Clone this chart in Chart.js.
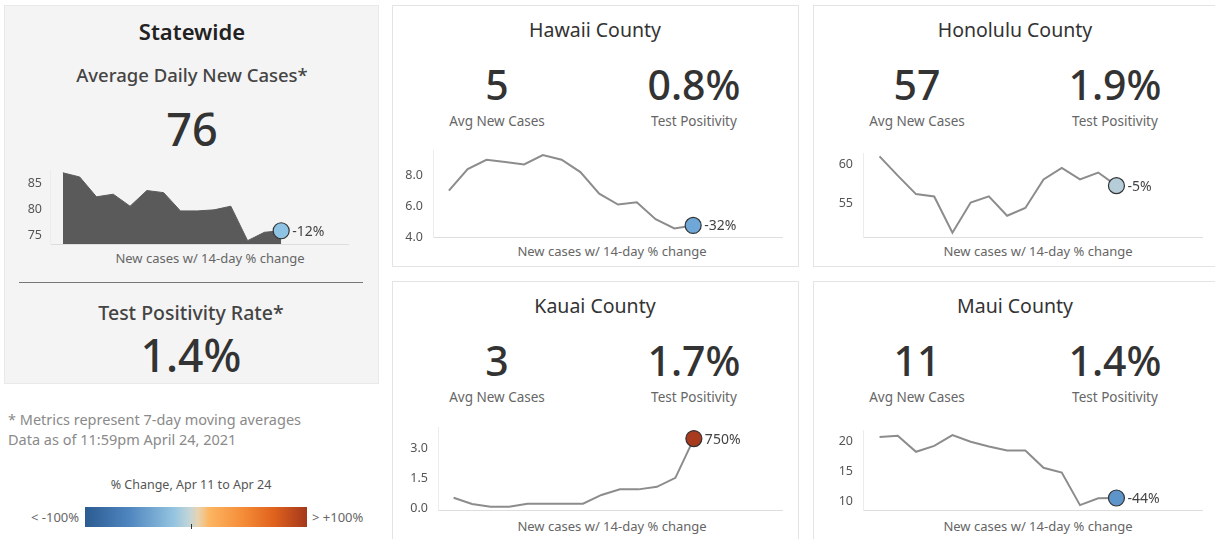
<!DOCTYPE html>
<html>
<head>
<meta charset="utf-8">
<script src="https://cdn.jsdelivr.net/npm/chart.js@4.4.1/dist/chart.umd.min.js"></script>
<style>
body { margin: 0; width: 1215px; height: 539px; overflow: hidden; background: #fff; font-family: "Noto Sans", sans-serif; color: #333; position: relative }
.panel { position: absolute; box-sizing: border-box; border: 1px solid #e4e4e4; background: #fff }
.state { background: #f4f4f4; border-color: #e9e9e9 }
.t { position: absolute; width: 400px; margin-left: -200px; text-align: center; line-height: 1; white-space: nowrap }
.l { position: absolute; line-height: 1; white-space: nowrap }
.title { font-size: 19.5px; color: #333 }
.big { font-size: 41px; font-weight: 500; color: #333 }
.sub { font-size: 13.5px; color: #666 }
.cap { font-size: 13px; color: #666 }
canvas { position: absolute }
</style>
</head>
<body>

<div class="panel state" style="left:4px;top:5px;width:375px;height:379px"></div>
<div class="panel" style="left:392px;top:5px;width:407px;height:262px"></div>
<div class="panel" style="left:813px;top:5px;width:410px;height:262px"></div>
<div class="panel" style="left:392px;top:281px;width:407px;height:270px"></div>
<div class="panel" style="left:813px;top:281px;width:410px;height:270px"></div>

<!-- statewide -->
<div class="t" style="left:192px;top:19.8px;font-size:22px;font-weight:600;color:#222">Statewide</div>
<div class="t" style="left:192px;top:65.9px;font-size:18.5px;font-weight:500;color:#444">Average Daily New Cases*</div>
<div class="t" id="stateCases" style="left:192px;top:106px;font-size:45px;font-weight:500"></div>
<div class="t cap" style="left:210px;top:251.5px">New cases w/ 14-day % change</div>
<div style="position:absolute;left:19px;top:282px;width:344px;height:1px;background:#777"></div>
<div class="t" style="left:191px;top:302.7px;font-size:19.5px;font-weight:500;color:#444">Test Positivity Rate*</div>
<div class="t" id="statePos" style="left:191px;top:332.5px;font-size:44.5px;font-weight:500"></div>

<div class="l" style="left:8px;top:412px;font-size:14.5px;color:#8a8a8a">* Metrics represent 7-day moving averages</div>
<div class="l" style="left:8px;top:432px;font-size:14.5px;color:#8a8a8a">Data as of 11:59pm April 24, 2021</div>
<div class="t" style="left:191px;top:479px;font-size:12.5px;color:#555">% Change, Apr 11 to Apr 24</div>
<div style="position:absolute;left:85px;top:507px;width:222px;height:20px;background:linear-gradient(to right,#2b5b91 0%,#4f86bf 20%,#94c4e0 40%,#c3d5d8 47%,#e8d3b0 51%,#fdb561 56%,#f48a36 72%,#e0621d 85%,#a4381c 100%)"></div>
<div style="position:absolute;left:191px;top:524px;width:1px;height:5px;background:#333"></div>
<div class="l" style="left:31px;top:510.5px;font-size:13px;color:#666">&lt; -100%</div>
<div class="l" style="left:312px;top:510.5px;font-size:13px;color:#666">&gt; +100%</div>

<!-- counties -->
<div class="t title" style="left:595px;top:20px">Hawaii County</div>
<div class="t big" id="hawaiiCases" style="left:497px;top:63.6px"></div>
<div class="t big" id="hawaiiPos" style="left:694px;top:63.6px"></div>
<div class="t sub" style="left:497px;top:115px">Avg New Cases</div>
<div class="t sub" style="left:694px;top:115px">Test Positivity</div>
<div class="t cap" style="left:612px;top:245px">New cases w/ 14-day % change</div>

<div class="t title" style="left:1015px;top:20px">Honolulu County</div>
<div class="t big" id="honoluluCases" style="left:917px;top:63.6px"></div>
<div class="t big" id="honoluluPos" style="left:1115px;top:63.6px"></div>
<div class="t sub" style="left:917px;top:115px">Avg New Cases</div>
<div class="t sub" style="left:1115px;top:115px">Test Positivity</div>
<div class="t cap" style="left:1038px;top:245px">New cases w/ 14-day % change</div>

<div class="t title" style="left:595px;top:296px">Kauai County</div>
<div class="t big" id="kauaiCases" style="left:497px;top:339.6px"></div>
<div class="t big" id="kauaiPos" style="left:694px;top:339.6px"></div>
<div class="t sub" style="left:497px;top:391px">Avg New Cases</div>
<div class="t sub" style="left:694px;top:391px">Test Positivity</div>
<div class="t cap" style="left:612px;top:520px">New cases w/ 14-day % change</div>

<div class="t title" style="left:1015px;top:296px">Maui County</div>
<div class="t big" id="mauiCases" style="left:917px;top:339.6px"></div>
<div class="t big" id="mauiPos" style="left:1115px;top:339.6px"></div>
<div class="t sub" style="left:917px;top:391px">Avg New Cases</div>
<div class="t sub" style="left:1115px;top:391px">Test Positivity</div>
<div class="t cap" style="left:1038px;top:520px">New cases w/ 14-day % change</div>

<canvas id="cState"></canvas>
<canvas id="cHawaii"></canvas>
<canvas id="cHonolulu"></canvas>
<canvas id="cKauai"></canvas>
<canvas id="cMaui"></canvas>

<script>
const days = ["Apr 11", "Apr 12", "Apr 13", "Apr 14", "Apr 15", "Apr 16", "Apr 17",
    "Apr 18", "Apr 19", "Apr 20", "Apr 21", "Apr 22", "Apr 23", "Apr 24"]

// 7-day average new cases per day
const statewideCases = [87.0, 86.2, 82.4, 82.9, 80.6, 83.6, 83.2, 79.7, 79.7, 79.9, 80.6, 74.0, 75.6, 75.9]
const hawaiiCases = [7.0, 8.4, 9.0, 8.85, 8.7, 9.3, 9.0, 8.2, 6.8, 6.1, 6.25, 5.15, 4.55, 4.75]
const honoluluCases = [61.1, 58.6, 56.2, 55.9, 51.2, 55.1, 55.9, 53.4, 54.4, 58.1, 59.6, 58.1, 59.0, 57.3]
const kauaiCases = [0.53, 0.22, 0.08, 0.08, 0.23, 0.23, 0.23, 0.23, 0.67, 0.95, 0.95, 1.08, 1.53, 3.5]
const mauiCases = [20.8, 21.0, 18.3, 19.3, 21.1, 20.0, 19.2, 18.5, 18.5, 15.6, 14.8, 9.3, 10.45, 10.5]

// headline numbers
const avgCases = { state: "76", hawaii: "5", honolulu: "57", kauai: "3", maui: "11" }
const testPositivity = { state: "1.4%", hawaii: "0.8%", honolulu: "1.9%", kauai: "1.7%", maui: "1.4%" }
const pctChange = { state: "-12%", hawaii: "-32%", honolulu: "-5%", kauai: "750%", maui: "-44%" }

// y axis ticks
const stateTicks = [75, 80, 85]
const hawaiiTicks = [4, 6, 8]
const honoluluTicks = [55, 60]
const kauaiTicks = [0, 1.5, 3]
const mauiTicks = [10, 15, 20]

document.getElementById("stateCases").textContent = avgCases.state
document.getElementById("statePos").textContent = testPositivity.state
for (const k of ["hawaii", "honolulu", "kauai", "maui"]) {
    document.getElementById(k + "Cases").textContent = avgCases[k]
    document.getElementById(k + "Pos").textContent = testPositivity[k]
}

const endLabel = {
    id: "endLabel",
    afterDatasetsDraw(chart, args, opts) {
        const meta = chart.getDatasetMeta(0)
        const pt = meta.data[meta.data.length - 1]
        const ctx = chart.ctx
        ctx.save()
        ctx.font = "14px 'Noto Sans'"
        ctx.fillStyle = "#444"
        ctx.textBaseline = "middle"
        ctx.fillText(opts.text, pt.x + 11, pt.y + 1)
        ctx.restore()
    }
}

function makeSpark(cfg, values, ticks, change, dotColor) {
    const yW = 40
    const pad = 22 // must exceed half a tick label + tick padding
    const canvas = document.getElementById(cfg.id)
    canvas.width = Math.round(cfg.plotRight - cfg.plotLeft + yW)
    canvas.height = Math.round(cfg.plotBottom - cfg.plotTop + pad * 2)
    canvas.style.left = (cfg.plotLeft - yW) + "px"
    canvas.style.top = (cfg.plotTop - pad) + "px"

    const last = values.length - 1
    const step = (cfg.lastX - cfg.firstX) / last
    const xMin = -(cfg.firstX - cfg.plotLeft) / step
    const xMax = last + (cfg.plotRight - cfg.lastX) / step

    new Chart(canvas, {
        type: "line",
        data: {
            labels: days,
            datasets: [{
                data: values.map((v, i) => ({ x: i, y: v })),
                borderColor: cfg.area ? "#5a5a5a" : "#8c8c8c",
                borderWidth: cfg.area ? 1 : 2,
                backgroundColor: "#5a5a5a",
                fill: cfg.area ? "start" : false,
                tension: 0,
                clip: false,
                pointRadius: ctx => ctx.dataIndex === last ? 8 : 0,
                pointBackgroundColor: dotColor,
                pointBorderColor: "#333",
                pointBorderWidth: 1.2
            }]
        },
        options: {
            responsive: false,
            animation: false,
            layout: { padding: { top: pad, bottom: pad, left: 0, right: 0 } },
            plugins: {
                legend: { display: false },
                tooltip: { enabled: false },
                endLabel: { text: change }
            },
            scales: {
                x: {
                    type: "linear",
                    min: xMin,
                    max: xMax,
                    ticks: { display: false },
                    grid: { display: false, drawTicks: false },
                    border: { display: true, color: "#dedede" },
                    afterFit: s => { s.height = 0 }
                },
                y: {
                    min: cfg.yMin,
                    max: cfg.yMax,
                    afterBuildTicks: s => { s.ticks = ticks.map(v => ({ value: v })) },
                    ticks: {
                        color: "#555",
                        padding: cfg.tickPad,
                        font: { size: 12.5, family: "Noto Sans" },
                        callback: v => v.toFixed(cfg.decimals)
                    },
                    grid: { display: false, drawTicks: false },
                    border: { display: true, color: "#ececec" },
                    afterFit: s => { s.width = yW }
                }
            }
        },
        plugins: [endLabel]
    })
}

makeSpark({ id: "cState", plotLeft: 50, plotRight: 358, plotTop: 170, plotBottom: 244, firstX: 63.3, lastX: 288.3,
    yMin: 73.36, yMax: 87.54, decimals: 0, tickPad: 8, area: true }, statewideCases, stateTicks, pctChange.state, "#8fc3e4")
makeSpark({ id: "cHawaii", plotLeft: 433, plotRight: 792, plotTop: 150, plotBottom: 237, firstX: 449.3, lastX: 700,
    yMin: 4.0, yMax: 9.63, decimals: 1, tickPad: 10 }, hawaiiCases, hawaiiTicks, pctChange.hawaii, "#6fa8d8")
makeSpark({ id: "cHonolulu", plotLeft: 863, plotRight: 1212, plotTop: 153, plotBottom: 237, firstX: 880, lastX: 1123.3,
    yMin: 50.64, yMax: 61.53, decimals: 0, tickPad: 10 }, honoluluCases, honoluluTicks, pctChange.honolulu, "#b5cdd8")
makeSpark({ id: "cKauai", plotLeft: 438, plotRight: 792, plotTop: 427, plotBottom: 510, firstX: 454, lastX: 700.7,
    yMin: -0.085, yMax: 4.08, decimals: 1, tickPad: 10 }, kauaiCases, kauaiTicks, pctChange.kauai, "#a83a1e")
makeSpark({ id: "cMaui", plotLeft: 863, plotRight: 1212, plotTop: 430, plotBottom: 510, firstX: 880, lastX: 1123.3,
    yMin: 8.48, yMax: 21.97, decimals: 0, tickPad: 10 }, mauiCases, mauiTicks, pctChange.maui, "#5d95cb")
</script>
</body>
</html>
